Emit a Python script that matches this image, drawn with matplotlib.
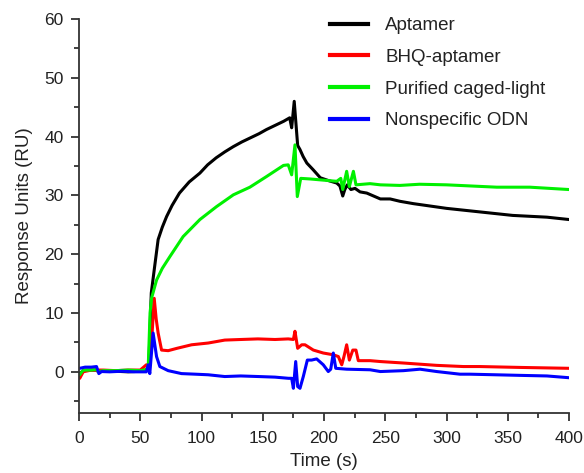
import matplotlib
matplotlib.use("Agg")
import matplotlib.pyplot as plt
from matplotlib.ticker import MultipleLocator

plt.rcParams['font.family'] = ['Liberation Sans', 'DejaVu Sans']

# values (time in s, response in RU)
aptamer_t = [0, 5, 14, 16, 20, 30, 40, 50, 55, 57, 59, 61.5, 64.6, 68, 71.5, 76, 82, 90,
             98.7, 105, 112, 119, 126, 133, 140, 147, 153, 160, 167, 172, 173.6, 175.7,
             177, 178.5, 180.4, 183, 186, 191, 197, 204, 210.4, 213, 215.3, 217, 219,
             222, 225.3, 229.4, 234.9, 246, 254, 262, 273, 300, 327, 354, 382, 400]
aptamer_v = [-0.3, 0.3, 0.3, 0.0, 0.1, 0.1, 0.0, 0.1, 0.3, 1.0, 13.4, 17.5, 22.5, 24.6,
             26.4, 28.3, 30.4, 32.3, 33.8, 35.2, 36.4, 37.4, 38.3, 39.1, 39.8, 40.5, 41.2,
             41.9, 42.6, 43.2, 41.5, 46.0, 42.5, 38.5, 37.8, 36.6, 35.5, 34.4, 33.0, 32.5,
             32.1, 31.6, 29.9, 31.0, 31.8, 31.0, 31.2, 30.6, 30.4, 29.4, 29.4, 29.0, 28.6,
             27.8, 27.2, 26.6, 26.3, 25.9]

bhq_t = [0, 0.6, 3.4, 10, 20, 30, 40, 50, 55, 57, 59.8, 61.4, 63, 64.6, 67.4, 72.8, 80,
         91.9, 105.5, 119, 132, 146, 160, 170.8, 175, 176.3, 178.5, 181.8, 184.5, 191.3,
         199.4, 207.6, 211.7, 214.5, 216.3, 218.5, 220.7, 223.5, 226.1, 228, 237.6, 246,
         264.8, 292, 313.8, 327, 360, 400]
bhq_v = [-1.1, -1.1, 0.0, 0.3, 0.3, 0.2, 0.3, 0.3, 1.2, 1.0, 7.0, 12.5, 9.0, 6.6, 3.7, 3.6,
         4.0, 4.6, 4.9, 5.4, 5.5, 5.6, 5.5, 5.6, 5.5, 6.9, 4.0, 4.6, 4.6, 3.7, 3.2, 2.9,
         2.6, 1.2, 2.6, 4.6, 2.0, 3.7, 3.7, 1.9, 1.9, 1.75, 1.5, 1.1, 0.9, 0.9, 0.75, 0.6]

caged_t = [0, 0.6, 3.4, 10, 14, 16, 20, 30, 40, 50, 55.1, 56.5, 58, 59.2, 63.3, 68, 74.2,
           85, 98.7, 112.3, 126, 139.5, 153, 166.9, 170.8, 173.6, 176.3, 178.2, 181,
           188.6, 199.4, 210.4, 213.7, 215.3, 218.5, 220.7, 224, 226.1, 237.6, 246, 262,
           278, 300, 341, 368, 400]
caged_v = [-0.5, -0.5, 0.3, 0.3, 0.4, 0.05, 0.2, 0.2, 0.3, 0.2, 0.4, 0.8, 10.0, 12.5, 15.6,
           17.6, 19.6, 23.0, 25.9, 28.1, 30.1, 31.4, 33.2, 35.1, 35.2, 33.5, 38.6, 29.8,
           32.9, 32.8, 32.6, 32.4, 32.9, 31.0, 34.1, 31.5, 34.1, 31.8, 32.0, 31.8, 31.7,
           31.9, 31.8, 31.4, 31.4, 31.0]

odn_t = [0, 0.6, 5, 10, 14.3, 16.2, 18.4, 25, 35, 45, 55, 56.5, 57.8, 60.5, 63.3, 66, 72.8,
         83.7, 95, 105.5, 119, 132, 146.5, 160, 171, 173.6, 175, 176.9, 178.5, 180.4,
         183.1, 186.4, 189.9, 194, 199.4, 203.5, 205.5, 207.6, 209.6, 218.5, 237.6, 246,
         264.8, 278.4, 292, 311, 319, 340, 360, 382, 400]
odn_v = [0.6, 0.6, 0.8, 0.8, 0.9, -0.3, 0.05, 0.0, 0.1, 0.0, 0.0, 1.2, -0.3, 6.6, 2.6, 0.9,
         0.2, -0.3, -0.4, -0.5, -0.8, -0.7, -0.8, -0.9, -1.1, -1.1, -2.8, 1.75, -2.5, -2.8,
         -0.8, 2.0, 2.0, 2.2, 1.2, 0.05, 0.45, 3.2, 0.6, 0.45, 0.35, 0.05, 0.2, 0.45,
         0.05, -0.4, -0.4, -0.5, -0.6, -0.7, -1.0]

series = [
    ("Aptamer", aptamer_t, aptamer_v, "black"),
    ("BHQ-aptamer", bhq_t, bhq_v, "#ff0000"),
    ("Purified caged-light", caged_t, caged_v, "#00f000"),
    ("Nonspecific ODN", odn_t, odn_v, "#0000ff"),
]

fig = plt.figure(figsize=(5.84, 4.73), dpi=100)
ax = fig.add_axes([79 / 584, 60 / 473, 490 / 584, 394 / 473])

for name, t, v, col in series:
    ax.plot(t, v, color=col, lw=2.2, label=name, solid_joinstyle='round')

ax.set_xlim(0, 400)
ax.set_ylim(-7, 60)
ax.xaxis.set_major_locator(MultipleLocator(50))
ax.xaxis.set_minor_locator(MultipleLocator(25))
ax.yaxis.set_major_locator(MultipleLocator(10))
ax.yaxis.set_minor_locator(MultipleLocator(5))

for s in ["top", "right"]:
    ax.spines[s].set_visible(False)
for s in ["left", "bottom"]:
    ax.spines[s].set_color("#333333")
    ax.spines[s].set_linewidth(1.3)

ax.tick_params(which="major", direction="out", length=6, width=1.3, color="#333333",
               labelsize=12.5, labelcolor="#222222")
ax.tick_params(axis="x", which="major", pad=7)
ax.tick_params(axis="y", which="major", pad=5)
ax.tick_params(which="minor", direction="out", length=3.5, width=1.3, color="#333333")

ax.set_xlabel("Time (s)", fontsize=13.5, color="#222222", labelpad=5)
ax.set_ylabel("Response Units (RU)", fontsize=13.5, color="#222222", labelpad=8)

leg = ax.legend(loc="upper left", bbox_to_anchor=(330 / 584, 1 - 17 / 473),
                bbox_transform=fig.transFigure, frameon=False, fontsize=13.5,
                handlelength=2.0, handletextpad=0.95, labelspacing=0.78,
                borderpad=0, borderaxespad=0)
for line in leg.get_lines():
    line.set_linewidth(3)
for txt in leg.get_texts():
    txt.set_color("#222222")

fig.savefig("out.png", dpi=100)
